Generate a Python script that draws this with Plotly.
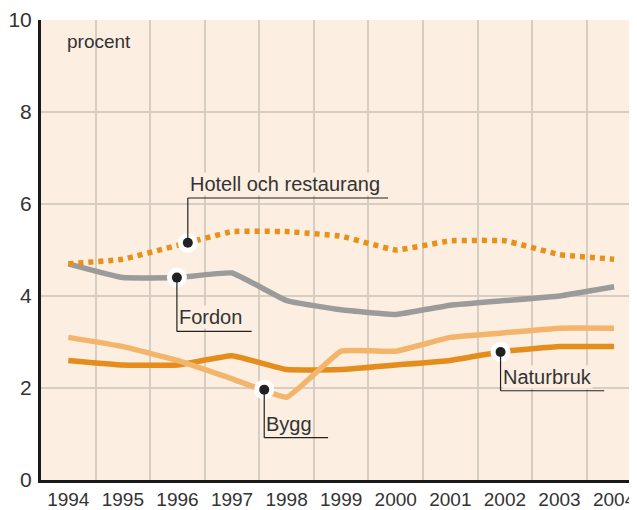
import numpy as np
import plotly.graph_objects as go

years = [1994, 1995, 1996, 1997, 1998, 1999, 2000, 2001, 2002, 2003, 2004]
hotell = [4.7, 4.8, 5.1, 5.4, 5.4, 5.3, 5.0, 5.2, 5.2, 4.9, 4.8]
fordon = [4.7, 4.4, 4.4, 4.5, 3.9, 3.7, 3.6, 3.8, 3.9, 4.0, 4.2]
bygg = [3.1, 2.9, 2.6, 2.2, 1.8, 2.8, 2.8, 3.1, 3.2, 3.3, 3.3]
naturbruk = [2.6, 2.5, 2.5, 2.7, 2.4, 2.4, 2.5, 2.6, 2.8, 2.9, 2.9]
y_ticks = [0, 2, 4, 6, 8, 10]

# callouts: (label, series, x of dot, leader end y, horizontal end x)
callouts = [
    ("Hotell och restaurang", hotell, 1996.19, 6.13, 1999.86),
    ("Fordon", fordon, 1995.99, 3.23, 1997.36),
    ("Bygg", bygg, 1997.59, 0.92, 1998.76),
    ("Naturbruk", naturbruk, 2001.92, 1.94, 2003.82),
]

BG = "#fcefe1"
GRID = "#d6cdc3"
TXT = "#333333"
FONT = "Liberation Sans, Arial, sans-serif"

fig = go.Figure()

series = [
    (naturbruk, "#e48c1c", "solid"),
    (bygg, "#f3b56c", "solid"),
    (fordon, "#9b9b9b", "solid"),
    (hotell, "#e8901a", "5px,5px"),
]
for vals, col, dash in series:
    fig.add_trace(go.Scatter(
        x=years, y=vals, mode="lines",
        line=dict(color=col, width=5.5, dash=dash, shape="spline", smoothing=0.3),
        hoverinfo="skip", showlegend=False))

for label, vals, xd, yend, xend in callouts:
    yd = float(np.interp(xd, years, vals))
    fig.add_shape(type="line", x0=xd, x1=xd, y0=yd, y1=yend,
                  line=dict(color="#222222", width=1.2), layer="above")
    fig.add_shape(type="line", x0=xd, x1=xend, y0=yend, y1=yend,
                  line=dict(color="#222222", width=1.2), layer="above")
    fig.add_trace(go.Scatter(x=[xd], y=[yd], mode="markers",
                             marker=dict(size=20, color="white"),
                             hoverinfo="skip", showlegend=False))
    fig.add_trace(go.Scatter(x=[xd], y=[yd], mode="markers",
                             marker=dict(size=10, color="#222222"),
                             hoverinfo="skip", showlegend=False))
    fig.add_annotation(x=xd, y=yend, text=label, showarrow=False,
                       xanchor="left", yanchor="bottom", xshift=1, yshift=2,
                       font=dict(family=FONT, size=20, color=TXT),
                       bgcolor=BG, borderpad=0)

fig.add_annotation(xref="paper", yref="paper", x=0.04, y=0.98, text="procent",
                   showarrow=False, xanchor="left", yanchor="top",
                   font=dict(family=FONT, size=19, color=TXT))

fig.update_layout(
    width=629, height=502,
    margin=dict(l=31, r=0, t=11, b=26),
    paper_bgcolor="white", plot_bgcolor=BG,
    xaxis=dict(range=[1993.5, 2004.42], tickvals=years, ticktext=[str(y) for y in years],
               showgrid=False, zeroline=False, showline=True, linecolor="#1a1a1a",
               linewidth=3, ticks="", ticklabeloverflow="allow",
               tickfont=dict(family=FONT, size=19, color=TXT),
               minor=dict(tickvals=[y + 0.5 for y in years[:-1]], showgrid=True,
                          gridcolor=GRID, gridwidth=1.5)),
    yaxis=dict(range=[0, 10], tickvals=y_ticks, showgrid=True, gridcolor=GRID,
               gridwidth=1.5, zeroline=False, showline=True, linecolor="#1a1a1a",
               linewidth=3, ticks="", ticklabelstandoff=2, ticklabeloverflow="allow",
               tickfont=dict(family=FONT, size=21, color=TXT)),
)

fig.write_html("out.html")
